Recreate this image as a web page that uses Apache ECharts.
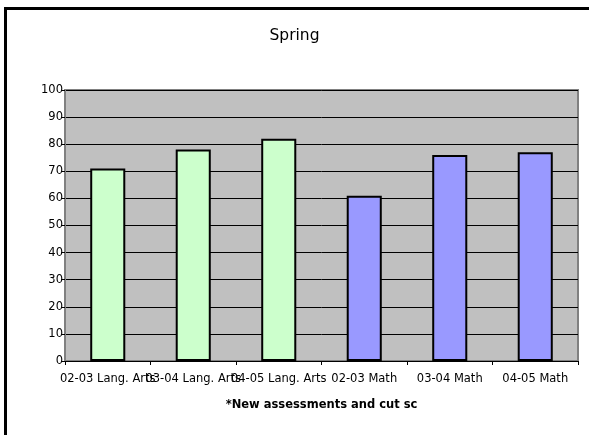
<!DOCTYPE html>
<html><head><meta charset="utf-8">
<script src="https://cdn.jsdelivr.net/npm/echarts@6/dist/echarts.min.js"></script>
<style>html,body{margin:0;padding:0;background:#fff}#c{width:589px;height:435px}</style>
</head><body><div id="c"></div>
<script>
const categories = ["02-03 Lang. Arts","03-04 Lang. Arts","04-05 Lang. Arts","02-03 Math","03-04 Math","04-05 Math"];
const values = [71, 78, 82, 61, 76, 77];
const barColors = ["#CCFFCC","#CCFFCC","#CCFFCC","#9999FF","#9999FF","#9999FF"];
const yTicks = [0,10,20,30,40,50,60,70,80,90,100];
const chartTitle = "Spring";
const note = "*New assessments and cut sc";

const chart = echarts.init(document.getElementById('c'));
chart.setOption({
  animation: false,
  backgroundColor: '#fff',
  title: { text: chartTitle, left: 'center', top: 23, textStyle: { fontFamily: 'DejaVu Sans', fontSize: 15.5, fontWeight: 'normal', color: '#000' } },
  graphic: [{ type: 'rect', shape: { x: 5.5, y: 8.5, width: 620, height: 460 }, style: { fill: 'none', stroke: '#000', lineWidth: 3 }, z: 100 }],
  grid: { left: 65, right: 11, top: 90, bottom: 74, show: true, backgroundColor: '#C0C0C0', borderColor: '#808080', borderWidth: 2 },
  xAxis: {
    type: 'category', data: categories,
    name: note, nameLocation: 'middle', nameGap: 38,
    nameTextStyle: { fontFamily: 'DejaVu Sans', fontSize: 11.5, fontWeight: 'bold', color: '#000' },
    axisLine: { lineStyle: { color: '#000', width: 1 } },
    axisTick: { show: true, length: 4, lineStyle: { color: '#000' } },
    axisLabel: { interval: 0, hideOverlap: false, margin: 12, fontFamily: 'DejaVu Sans', fontSize: 11.5, color: '#000' }
  },
  yAxis: {
    type: 'value', min: yTicks[0], max: yTicks[yTicks.length-1], interval: yTicks[1]-yTicks[0],
    axisLine: { show: true, lineStyle: { color: '#808080', width: 1 } },
    axisTick: { show: true, length: 4, lineStyle: { color: '#000' } },
    axisLabel: { margin: 2, fontFamily: 'DejaVu Sans', fontSize: 11.5, color: '#000' },
    splitLine: { show: true, lineStyle: { color: '#000', width: 1 } }
  },
  series: [{
    type: 'bar', barWidth: '41%',
    data: values.map((v, i) => ({ value: v, itemStyle: { color: barColors[i], borderColor: '#000', borderWidth: 2 } }))
  }]
});
</script></body></html>
